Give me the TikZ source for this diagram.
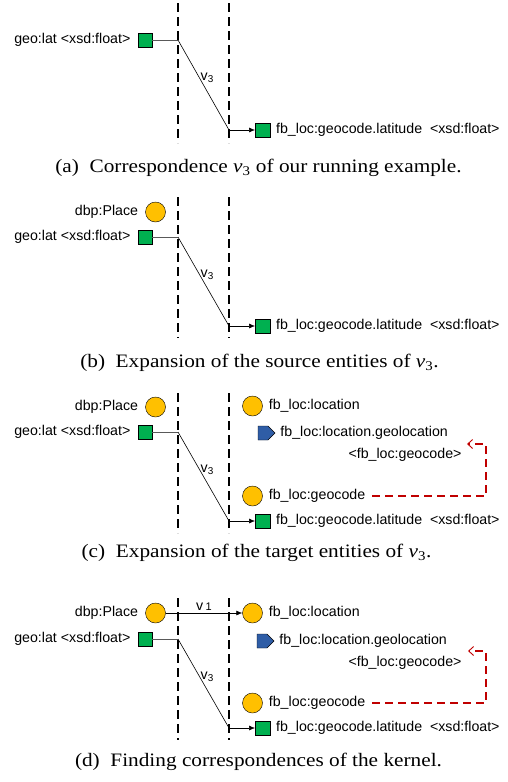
\documentclass[tikz,border=0pt]{standalone}
\usepackage{fontspec}
\setmainfont{Liberation Serif}
\newfontfamily\diagfont{Liberation Sans}
\usepackage{xcolor}
\usepackage{tikz}
\usetikzlibrary{arrows,arrows.meta,positioning,shapes.symbols}
\definecolor{clsyellow}{HTML}{FFC000}
\definecolor{attrgreen}{HTML}{00B050}
\definecolor{relblue}{HTML}{2F5DA6}
\definecolor{rngred}{HTML}{C00000}
\tikzset{
	cls/.style = {circle, draw, fill=clsyellow, minimum size=20pt, inner sep=0pt},
	attr/.style = {rectangle, draw, fill=attrgreen, minimum size=14.5pt, inner sep=0pt},
	rel/.style = {signal, signal to=east, draw, fill=relblue, minimum width=17pt, minimum height=14pt, inner sep=0pt},
	lbl/.style = {font=\diagfont\fontsize{14.2}{16}\selectfont, inner sep=1pt},
	sep/.style = {line width=2.4pt, dash pattern=on 9pt off 5pt},
	stub/.style = {draw=black!65, line width=0.9pt},
	corr/.style = {draw=black, line width=0.6pt},
	corrarrow/.style = {corr, -{Latex[length=6pt,width=5pt]}},
	typeof/.style = {draw=rngred, line width=1.8pt, dash pattern=on 8pt off 5pt, -{Straight Barb[length=5pt,width=9pt,line width=0.9pt]}},
	subcap/.style = {font=\fontsize{19}{22}\selectfont, inner sep=0pt, transform shape, xscale=1.12}
}

\begin{document}
\begin{tikzpicture}[x=1pt, y=-1pt]
		\useasboundingbox (0,0) rectangle (507,782);
		\draw[sep] (178,3) -- (178,143);
		\draw[sep] (229,3) -- (229,143);
		\node[attr] (latA) at (145,40) {};
		\node[lbl, left=6pt of latA] {geo:lat <xsd:float>};
		\node[attr] (tgtA) at (262.5,130) {};
		\node[lbl, right=5pt of tgtA] {fb\_loc:geocode.latitude \ <xsd:float>};
		\coordinate (a1) at (178,40);
		\coordinate (a2) at (229,130);
		\draw[stub] (latA) -- (a1);
		\draw[corr] (a1) -- node[lbl, right, pos=0.42] {v\textsubscript{3}} (a2);
		\draw[corrarrow] (a2) -- (tgtA);
		\node[subcap] (capA) at (258.5,168) {(a)\enskip Correspondence \textit{v}\textsubscript{3} of our running example.};

		\draw[sep] (178,197) -- (178,338);
		\draw[sep] (229,197) -- (229,338);
		\node[cls] (placeB) at (155.5,212) {};
		\node[lbl, left=6pt of placeB] {dbp:Place};
		\node[attr] (latB) at (145,237) {};
		\node[lbl, left=6pt of latB] {geo:lat <xsd:float>};
		\node[attr] (tgtB) at (262.5,326) {};
		\node[lbl, right=5pt of tgtB] {fb\_loc:geocode.latitude \ <xsd:float>};
		\coordinate (b1) at (178,237);
		\coordinate (b2) at (229,326);
		\draw[stub] (latB) -- (b1);
		\draw[corr] (b1) -- node[lbl, right, pos=0.42] {v\textsubscript{3}} (b2);
		\draw[corrarrow] (b2) -- (tgtB);
		\node[subcap] (capB) at (259.5,363) {(b)\enskip Expansion of the source entities of \textit{v}\textsubscript{3}.};

		\draw[sep] (178,393) -- (178,533);
		\draw[sep] (229,393) -- (229,533);
		\node[cls] (placeC) at (155.5,407) {};
		\node[lbl, left=6pt of placeC] {dbp:Place};
		\node[attr] (latC) at (145,432) {};
		\node[lbl, left=6pt of latC] {geo:lat <xsd:float>};
		\node[cls] (locC) at (252.5,406) {};
		\node[lbl, right=5pt of locC] {fb\_loc:location};
		\node[rel] (geoRelC) at (263,433) {};
		\node[lbl, right=4pt of geoRelC] {fb\_loc:location.geolocation};
		\node[lbl] (rngC) at (405,455) {<fb\_loc:geocode>};
		\node[cls] (gcC) at (252.5,496) {};
		\node[lbl, right=5pt of gcC] (gcLblC) {fb\_loc:geocode};
		\node[attr] (tgtC) at (262.5,521) {};
		\node[lbl, right=5pt of tgtC] {fb\_loc:geocode.latitude \ <xsd:float>};
		\coordinate (c1) at (178,432);
		\coordinate (c2) at (229,521);
		\coordinate (turnC) at (486,444);
		\coordinate (rngEndC) at (467,444);
		\draw[stub] (latC) -- (c1);
		\draw[corr] (c1) -- node[lbl, right, pos=0.42] {v\textsubscript{3}} (c2);
		\draw[corrarrow] (c2) -- (tgtC);
		\draw[typeof] ([xshift=6pt]gcLblC.east) -- (gcLblC.east -| turnC) -- (turnC) -- (rngEndC);
		\node[subcap] (capC) at (256.5,553) {(c)\enskip Expansion of the target entities of \textit{v}\textsubscript{3}.};

		\draw[sep] (178,598) -- (178,740);
		\draw[sep] (229,598) -- (229,740);
		\node[cls] (placeD) at (155.5,613) {};
		\node[lbl, left=6pt of placeD] {dbp:Place};
		\node[attr] (latD) at (145,639) {};
		\node[lbl, left=6pt of latD] {geo:lat <xsd:float>};
		\node[cls] (locD) at (252.5,613) {};
		\node[lbl, right=5pt of locD] {fb\_loc:location};
		\node[rel] (geoRelD) at (262,641) {};
		\node[lbl, right=4pt of geoRelD] {fb\_loc:location.geolocation};
		\node[lbl] (rngD) at (405,663) {<fb\_loc:geocode>};
		\node[cls] (gcD) at (252.5,703) {};
		\node[lbl, right=5pt of gcD] (gcLblD) {fb\_loc:geocode};
		\node[attr] (tgtD) at (262.5,728) {};
		\node[lbl, right=5pt of tgtD] {fb\_loc:geocode.latitude \ <xsd:float>};
		\coordinate (d1) at (178,639);
		\coordinate (d2) at (229,728);
		\coordinate (turnD) at (486,651);
		\coordinate (rngEndD) at (468,651);
		\draw[corrarrow] (placeD) -- node[lbl, above, pos=0.5, inner sep=2pt] {v\,{\fontsize{11}{12}\selectfont 1}} (locD);
		\draw[stub] (latD) -- (d1);
		\draw[corr] (d1) -- node[lbl, right, pos=0.42] {v\textsubscript{3}} (d2);
		\draw[corrarrow] (d2) -- (tgtD);
		\draw[typeof] ([xshift=6pt]gcLblD.east) -- (gcLblD.east -| turnD) -- (turnD) -- (rngEndD);
		\node[subcap] (capD) at (258.5,762) {(d)\enskip Finding correspondences of the kernel.};
\end{tikzpicture}
\end{document}
